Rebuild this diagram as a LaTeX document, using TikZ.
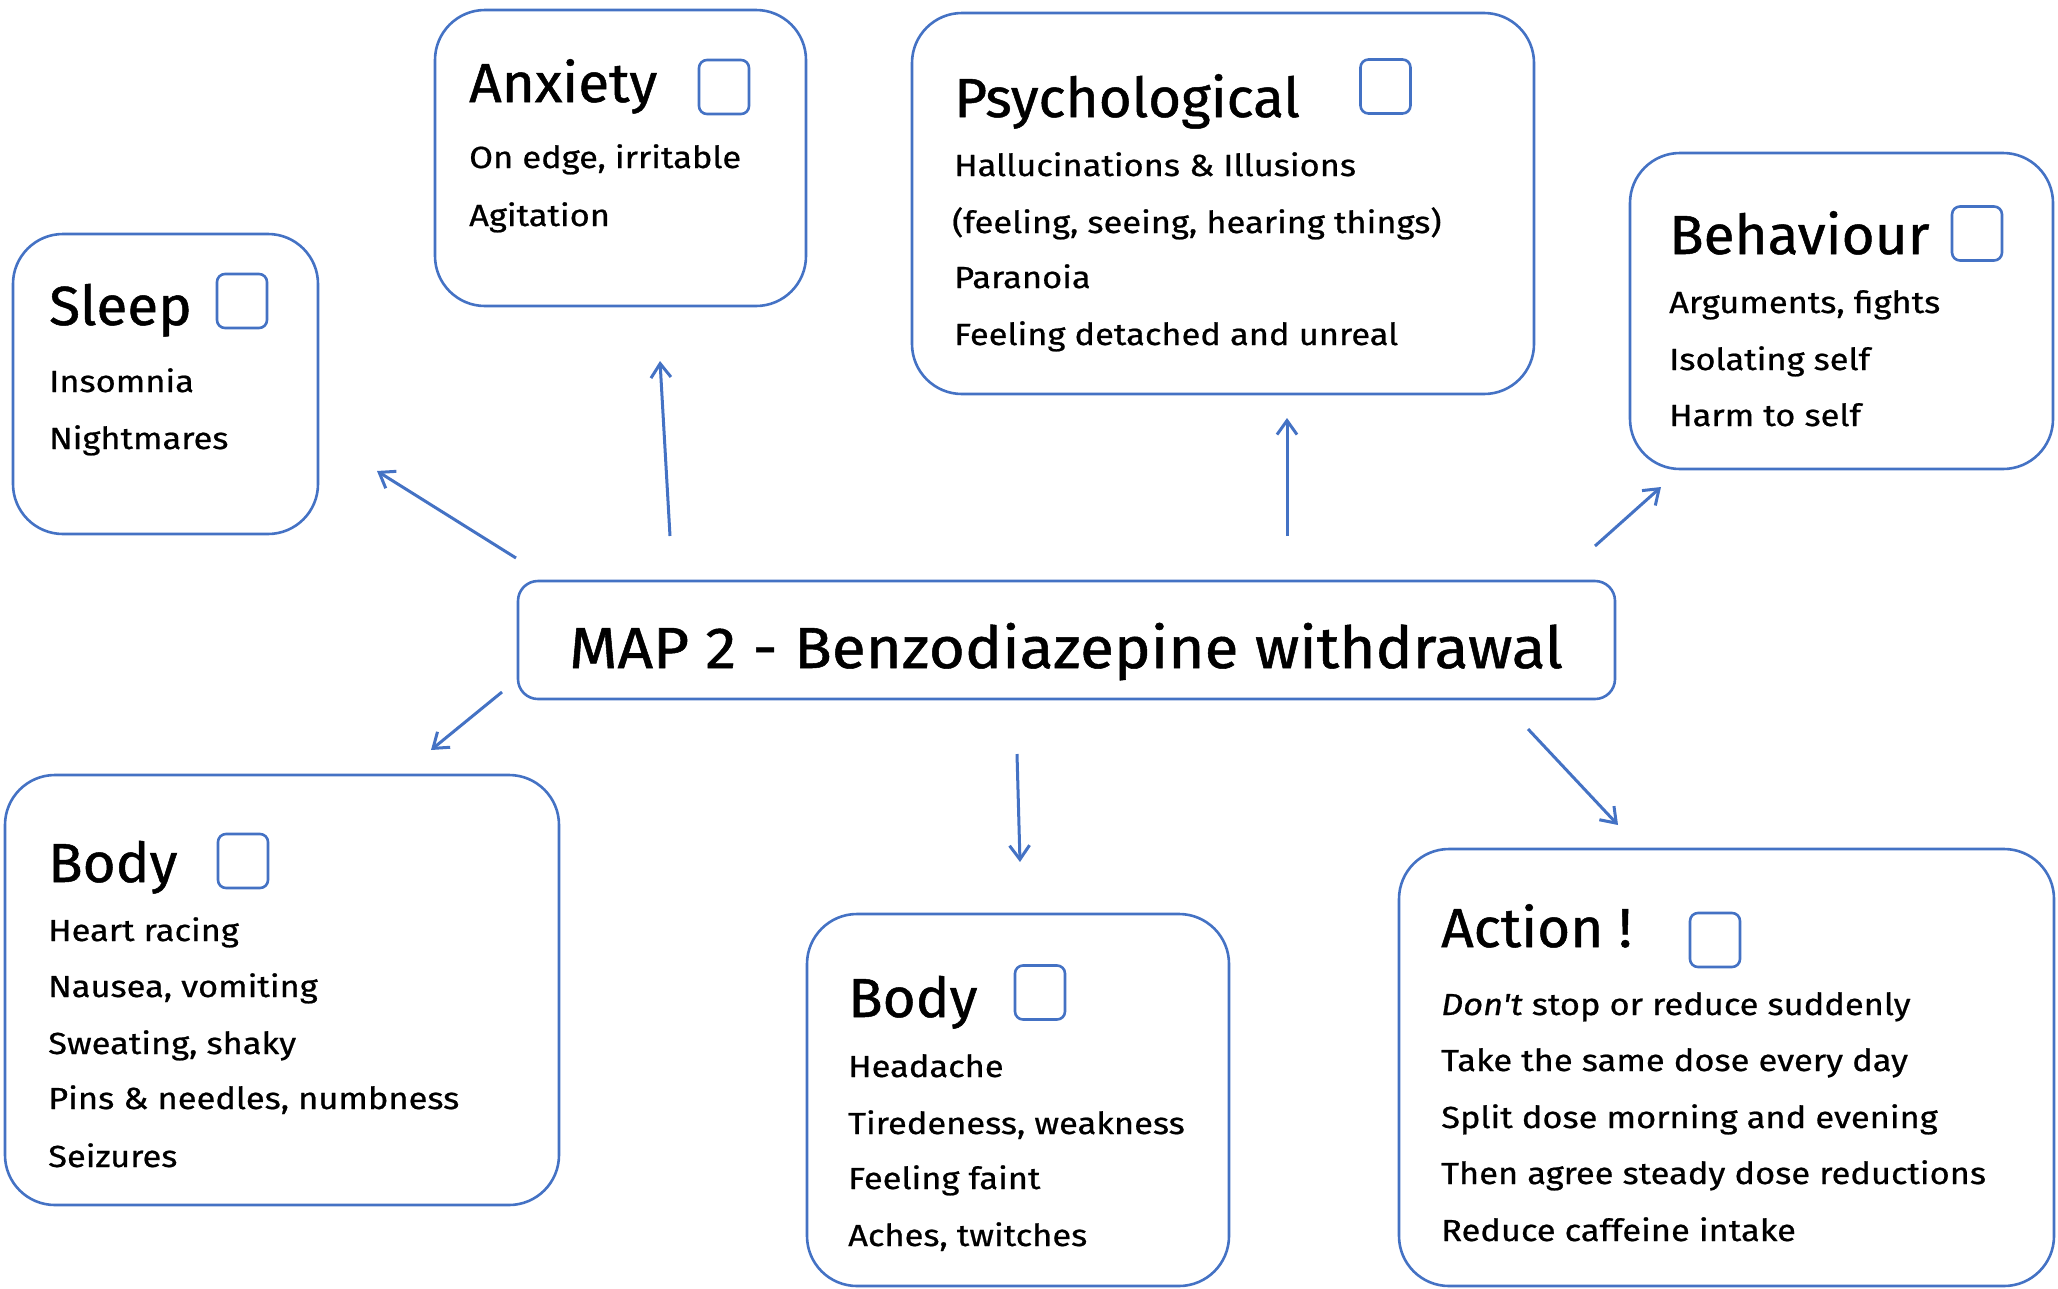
\documentclass[tikz,border=0pt]{standalone}
\usepackage{fontspec}
\setmainfont{Fira Sans}
\newfontfamily\entryfont[FakeStretch=1.13,FakeBold=0.7]{Fira Sans}
\newfontfamily\headfont[FakeStretch=1.03,FakeBold=0.9]{Fira Sans}
\newfontfamily\mapfont[FakeStretch=1.07,FakeBold=0.9]{Fira Sans}
\usetikzlibrary{arrows.meta}
\definecolor{boxblue}{HTML}{4472C4}
\begin{document}
\begin{tikzpicture}[x=1pt,y=-1pt,
  panel/.style={draw=boxblue,line width=2.6pt,rounded corners=50pt,inner sep=0pt},
  banner/.style={draw=boxblue,line width=2.6pt,rounded corners=20pt,inner sep=0pt},
  tick/.style={draw=boxblue,line width=2.6pt,rounded corners=8pt,inner sep=0pt,
    minimum width=50pt,minimum height=54pt},
  heading/.style={anchor=base west,inner sep=0pt,font=\headfont\fontsize{55}{60}\selectfont},
  entry/.style={anchor=base west,inner sep=0pt,font=\entryfont\fontsize{30.5}{36}\selectfont},
  link/.style={draw=boxblue,line width=3pt,-{Straight Barb[length=14pt,width=20pt,line width=3pt]}}]
\useasboundingbox (0,0) rectangle (2058,1288);

% panels
\node[panel,minimum width=305pt,minimum height=300pt] (sleep) at (165.5,384) {};
\node[panel,minimum width=371pt,minimum height=296pt] (anx) at (620.5,158) {};
\node[panel,minimum width=622pt,minimum height=381pt] (psy) at (1223,203.5) {};
\node[panel,minimum width=423pt,minimum height=316pt] (beh) at (1841.5,311) {};
\node[banner,minimum width=1097pt,minimum height=118pt] (map) at (1066.5,640) {};
\node[panel,minimum width=554pt,minimum height=430pt] (bodyL) at (282,990) {};
\node[panel,minimum width=422pt,minimum height=372pt] (bodyM) at (1018,1100) {};
\node[panel,minimum width=655pt,minimum height=437pt] (act) at (1726.5,1067.5) {};

% check boxes
\node[tick] (sleepbox) at (242,301) {};
\node[tick] (anxbox) at (724,87) {};
\node[tick] (psybox) at (1385.5,86.5) {};
\node[tick] (behbox) at (1977,233.5) {};
\node[tick] (bodyLbox) at (243,861) {};
\node[tick] (bodyMbox) at (1040,992.5) {};
\node[tick] (actbox) at (1715,940) {};

% centre title
\node[anchor=base west,inner sep=0pt,font=\mapfont\fontsize{58}{62}\selectfont] (maptxt) at (569,668) {MAP 2 - Benzodiazepine withdrawal};

% Sleep
\node[heading] (sleepT) at (49,325) {Sleep};
\node[entry] (sleep1) at (49,392) {Insomnia};
\node[entry] (sleep2) at (49,449) {Nightmares};

% Anxiety
\node[heading] (anxT) at (469,102) {Anxiety};
\node[entry] (anx1) at (469,168) {On edge, irritable};
\node[entry] (anx2) at (469,226) {Agitation};

% Psychological
\node[heading] (psyT) at (954,117) {Psychological};
\node[entry] (psy1) at (954,176) {Hallucinations \& Illusions};
\node[entry] (psy2) at (952,233) {(feeling, seeing, hearing things)};
\node[entry] (psy3) at (954,288) {Paranoia};
\node[entry] (psy4) at (954,345) {Feeling detached and unreal};

% Behaviour
\node[heading] (behT) at (1669,254) {Behaviour};
\node[entry] (beh1) at (1669,313) {Arguments, fights};
\node[entry] (beh2) at (1669,370) {Isolating self};
\node[entry] (beh3) at (1669,426) {Harm to self};

% Body (left)
\node[heading] (bodyLT) at (48,882) {Body};
\node[entry] (bodyL1) at (48,941) {Heart racing};
\node[entry] (bodyL2) at (48,997) {Nausea, vomiting};
\node[entry] (bodyL3) at (48,1054) {Sweating, shaky};
\node[entry] (bodyL4) at (48,1109) {Pins \& needles, numbness};
\node[entry] (bodyL5) at (48,1167) {Seizures};

% Body (middle)
\node[heading] (bodyMT) at (848,1017) {Body};
\node[entry] (bodyM1) at (848,1077) {Headache};
\node[entry] (bodyM2) at (848,1134) {Tiredeness, weakness};
\node[entry] (bodyM3) at (848,1189) {Feeling faint};
\node[entry] (bodyM4) at (848,1246) {Aches, twitches};

% Action
\node[heading] (actT) at (1441,947) {Action !};
\node[entry] (act1) at (1441,1015) {\textit{Don't} stop or reduce suddenly};
\node[entry] (act2) at (1441,1071) {Take the same dose every day};
\node[entry] (act3) at (1441,1128) {Split dose morning and evening};
\node[entry] (act4) at (1441,1184) {Then agree steady dose reductions};
\node[entry] (act5) at (1441,1241) {Reduce caffeine intake};

% arrow ends
\coordinate (sleepA) at (516,558);  \coordinate (sleepB) at (377,471);
\coordinate (anxA) at (670,536);    \coordinate (anxB) at (660,361);
\coordinate (psyA) at (1287,536);   \coordinate (psyB) at (1287,418);
\coordinate (behA) at (1595,546);   \coordinate (behB) at (1661,487);
\coordinate (bodyLA) at (502,692);  \coordinate (bodyLB) at (431,750);
\coordinate (bodyMA) at (1017,754); \coordinate (bodyMB) at (1020,862);
\coordinate (actA) at (1528,729);   \coordinate (actB) at (1618,825);

\draw[link] (sleepA) -- (sleepB);
\draw[link] (anxA) -- (anxB);
\draw[link] (psyA) -- (psyB);
\draw[link] (behA) -- (behB);
\draw[link] (bodyLA) -- (bodyLB);
\draw[link] (bodyMA) -- (bodyMB);
\draw[link] (actA) -- (actB);
\end{tikzpicture}
\end{document}
